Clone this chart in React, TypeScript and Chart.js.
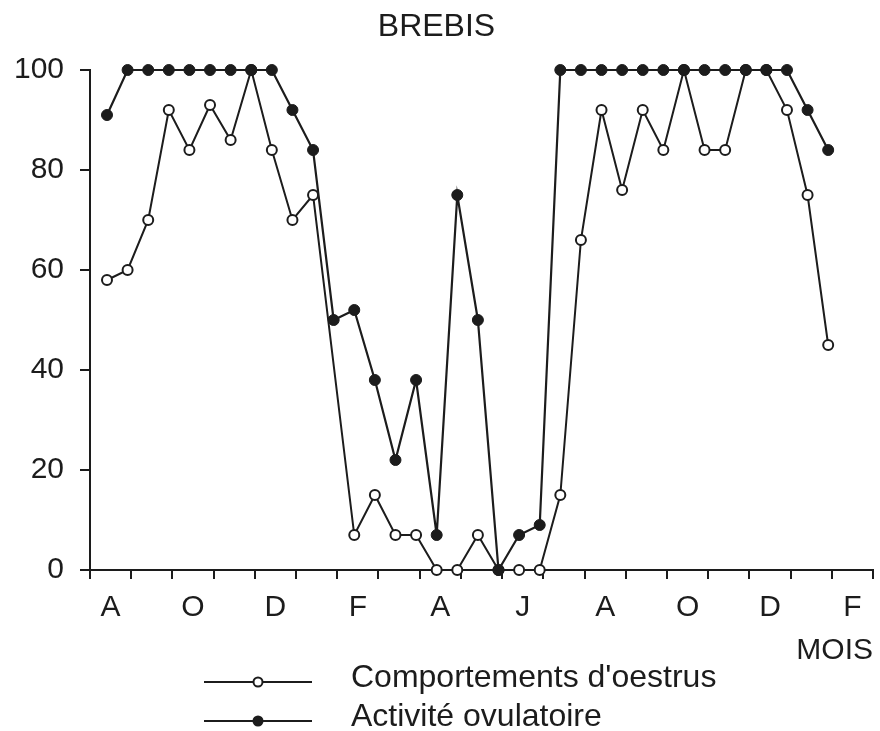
import React, { useEffect, useRef } from 'react';
import { Chart, registerables } from 'chart.js';

Chart.register(...registerables);

// ---- Data ----
const chartTitle = 'BREBIS';
const xAxisTitle = 'MOIS';
// month labels (Aug .. Feb of the following year), one per month, shown every other month
const monthLabels = ['A', '', 'O', '', 'D', '', 'F', '', 'A', '', 'J', '', 'A', '', 'O', '', 'D', '', 'F'];
const seriesNames = ["Comportements d'oestrus", 'Activité ovulatoire'];
// semi-monthly observations (%)
const oestrus = [58, 60, 70, 92, 84, 93, 86, 100, 84, 70, 75, null, 7, 15, 7, 7, 0, 0, 7, 0, 0, 0, 15, 66, 92, 76, 92, 84, 100, 84, 84, 100, 100, 92, 75, 45];
const ovulation = [91, 100, 100, 100, 100, 100, 100, 100, 100, 92, 84, 50, 52, 38, 22, 38, 7, 75, 50, 0, 7, 9, 100, 100, 100, 100, 100, 100, 100, 100, 100, 100, 100, 100, 92, 84];
const yTicks = [0, 20, 40, 60, 80, 100];

// first observation lies this many half-months after the start of the first month
const firstSampleOffset = 0.825;

const INK = '#1c1c1c';
const FONT = "'Liberation Sans', Arial, Helvetica, sans-serif";

const toPoints = (arr: (number | null)[]) => arr.map((v, i) => ({ x: i, y: v }));

const legendPlugin = {
  id: 'customLegend',
  afterDraw(chart: any) {
    const ctx = chart.ctx as CanvasRenderingContext2D;
    ctx.save();
    chart.data.datasets.forEach((ds: any, i: number) => {
      const lineY = 682 + i * 39;
      const x0 = 204;
      const x1 = 312;
      ctx.strokeStyle = ds.borderColor;
      ctx.lineWidth = 2;
      ctx.beginPath();
      ctx.moveTo(x0, lineY);
      ctx.lineTo(x1, lineY);
      ctx.stroke();
      ctx.beginPath();
      ctx.arc((x0 + x1) / 2, lineY, 4.5, 0, Math.PI * 2);
      ctx.fillStyle = ds.pointBackgroundColor;
      ctx.fill();
      ctx.lineWidth = 2;
      ctx.strokeStyle = ds.pointBorderColor;
      ctx.stroke();
      ctx.fillStyle = INK;
      ctx.font = `32px ${FONT}`;
      ctx.textAlign = 'left';
      ctx.textBaseline = 'middle';
      ctx.fillText(ds.label, 351, lineY - 4);
    });
    ctx.restore();
  },
};

export default function App() {
  const canvasRef = useRef<HTMLCanvasElement | null>(null);

  useEffect(() => {
    if (!canvasRef.current) return;
    const xMin = -firstSampleOffset;
    const xMax = xMin + 2 * monthLabels.length;
    const chart = new Chart(canvasRef.current, {
      type: 'line',
      data: {
        datasets: [
          {
            label: seriesNames[0],
            data: toPoints(oestrus) as any,
            borderColor: INK,
            borderWidth: 2,
            pointBackgroundColor: '#ffffff',
            pointBorderColor: INK,
            pointBorderWidth: 2,
            pointRadius: 5,
            tension: 0,
            spanGaps: true,
            clip: false as any,
            order: 1,
          },
          {
            label: seriesNames[1],
            data: toPoints(ovulation) as any,
            borderColor: INK,
            borderWidth: 2.2,
            pointBackgroundColor: INK,
            pointBorderColor: INK,
            pointBorderWidth: 1,
            pointRadius: 5.5,
            tension: 0,
            clip: false as any,
            order: 0,
          },
        ],
      },
      options: {
        animation: false,
        responsive: true,
        maintainAspectRatio: false,
        layout: { padding: { left: 0, right: 7, top: 0, bottom: 0 } },
        plugins: {
          legend: { display: false },
          tooltip: { enabled: false },
          title: {
            display: true,
            text: chartTitle,
            color: INK,
            font: { family: FONT, size: 32, weight: 'normal' as any },
            padding: { top: 8, bottom: 23.6 },
          },
        },
        scales: {
          x: {
            type: 'linear',
            min: xMin,
            max: xMax,
            bounds: 'data',
            afterBuildTicks: (scale: any) => {
              scale.ticks = monthLabels.map((_, m) => ({ value: xMin + 1 + 2 * m }));
            },
            afterFit: (scale: any) => {
              scale.height = 161;
            },
            grid: {
              offset: true,
              drawOnChartArea: false,
              drawTicks: true,
              tickLength: 9,
              color: INK,
              lineWidth: 2,
            },
            border: { display: true, color: INK, width: 2 },
            ticks: {
              autoSkip: false,
              maxRotation: 0,
              padding: 11,
              color: INK,
              font: { family: FONT, size: 30 },
              callback: (_v: any, i: number) => monthLabels[i],
            },
            title: {
              display: true,
              text: xAxisTitle,
              align: 'end',
              color: INK,
              font: { family: FONT, size: 30 },
              padding: { top: 0, bottom: 62 },
            },
          },
          y: {
            min: 0,
            max: 100,
            afterBuildTicks: (scale: any) => {
              scale.ticks = yTicks.map((v) => ({ value: v }));
            },
            afterFit: (scale: any) => {
              scale.width = 90;
            },
            grid: {
              drawOnChartArea: false,
              drawTicks: true,
              tickLength: 10,
              color: INK,
              lineWidth: 2,
            },
            border: { display: true, color: INK, width: 2 },
            ticks: {
              padding: 16,
              color: INK,
              font: { family: FONT, size: 30 },
            },
          },
        },
      },
      plugins: [legendPlugin],
    });
    return () => chart.destroy();
  }, []);

  return (
    <div style={{ position: 'absolute', left: 0, top: 0, width: 880, height: 731, background: '#ffffff' }}>
      <canvas ref={canvasRef} />
    </div>
  );
}
